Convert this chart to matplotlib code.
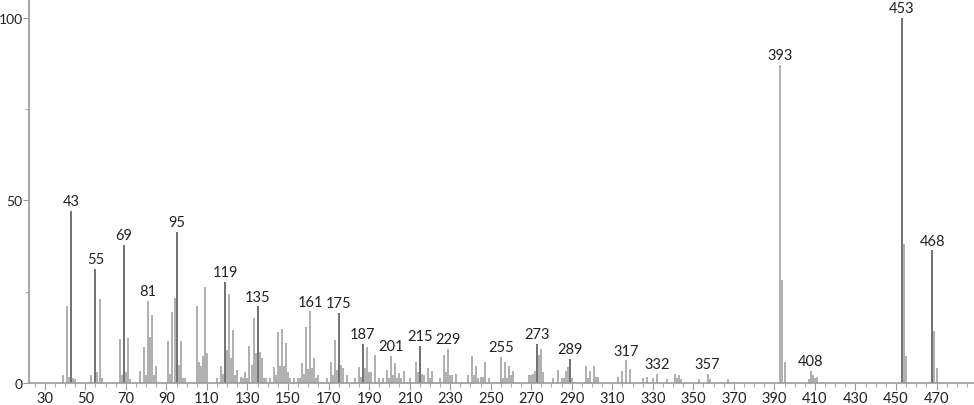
import matplotlib
matplotlib.use("Agg")
import matplotlib.pyplot as plt
from matplotlib.ticker import MultipleLocator, FixedLocator

plt.rcParams['font.family'] = ['Lato', 'DejaVu Sans']

# m/z and relative intensity
mz = [39, 41, 42, 43, 44, 45, 53, 55, 56, 57, 58,
      67, 68, 69, 70, 71, 72, 77, 79, 80, 81, 82, 83, 84, 85,
      91, 92, 93, 94, 95, 96, 97, 98, 99,
      105, 106, 107, 108, 109, 110, 115, 117, 118, 119, 120, 121, 122, 123, 124, 125,
      127, 128, 129, 130, 131, 132, 133, 134, 135, 136, 137, 138, 139,
      141, 143, 144, 145, 146, 147, 148, 149, 150, 151, 153, 155, 156, 157, 158, 159,
      160, 161, 162, 163, 164, 165, 169, 171, 172, 173, 174, 175, 176, 177, 179,
      183, 185, 186, 187, 188, 189, 190, 191, 193, 195, 197, 199, 200, 201, 202, 203,
      204, 205, 206, 207, 210, 213, 214, 215, 216, 217, 219, 220, 221, 225, 227, 228,
      229, 230, 231, 233, 239, 241, 242, 243, 244, 245, 246, 247, 249,
      255, 256, 257, 258, 259, 260, 261, 269, 270, 271, 272, 273, 274, 275, 276,
      281, 283, 285, 286, 287, 288, 289, 290, 297, 298, 299, 301, 302, 303,
      313, 315, 317, 319, 325, 327, 330, 332, 337, 341, 342, 343, 344,
      353, 357, 358, 367, 393, 394, 395, 407, 408, 409, 410, 411,
      453, 454, 455, 468, 469, 470]
intensity = [2.2, 21, 1.6, 47.1, 1.5, 1.1, 2.2, 31.2, 2.9, 23, 1.3,
             12, 2.2, 37.9, 2.9, 12.4, 1.1, 3.3, 9.9, 2.2, 22.6, 12.6, 18.6, 2.2, 4.6,
             11.5, 2.4, 19.4, 23.3, 41.3, 4.9, 11.5, 1.3, 1.3,
             21.2, 5.8, 4.7, 7.5, 26.4, 8.1, 1.3, 4.6, 2.4, 27.6, 9, 24.4, 6.8, 14.4, 2.2, 3.6,
             1.7, 1.3, 2.9, 1.4, 10.2, 4.9, 17.9, 8.2, 21, 8.4, 6.8, 1.3, 1.3,
             1.5, 4.5, 2.2, 13.9, 4.6, 14.8, 4.6, 11, 3.1, 1.3, 1.3, 1.3, 1.3, 5.5, 2.4, 15.3,
             3.9, 19.6, 4.1, 6.8, 1.3, 2.2, 1.5, 5.7, 2.2, 11.8, 3.6, 19.2, 4.9, 4, 2.3,
             1.4, 4.4, 1.7, 10.7, 4.2, 9.8, 3, 3, 7.7, 1.5, 1.5, 3.6, 1.4, 7.4, 2.2, 5.4,
             1.4, 2.8, 1.4, 3.2, 1.4, 5.7, 2.9, 10.1, 2.4, 2.1, 4.1, 1.5, 3.2, 1.4, 7.7, 2.9,
             9.3, 2.1, 2.1, 2.4, 2.1, 7.4, 2.1, 4.7, 1.4, 1.7, 1.7, 5.8, 1.5,
             7.2, 1.5, 5.7, 1.5, 4.7, 2.2, 3.3, 2.2, 2.2, 2.4, 3.2, 10.7, 7.7, 9.3, 2.9,
             1.5, 3.6, 1.5, 1.3, 3.3, 4.3, 6.6, 1.5, 4.7, 1.3, 3.2, 4.6, 1.6, 1.6,
             1.6, 3.3, 6.2, 3.7, 1.3, 1.6, 1.5, 2.5, 1.1, 2.6, 1.5, 2.3, 1.1,
             1.1, 2.4, 1.1, 1.1, 87.2, 28.2, 5.8, 1.1, 3.3, 2.2, 1.5, 1.6,
             100, 38.1, 7.4, 36.3, 14.2, 4.1]

labels = [43, 55, 69, 81, 95, 119, 135, 161, 175, 187, 201, 215, 229, 255,
          273, 289, 317, 332, 357, 393, 408, 453, 468]
dark = [43, 55, 69, 95, 119, 135, 175, 187, 215, 273, 289, 453, 468]

fig = plt.figure(figsize=(9.74, 4.06), dpi=100)
ax = fig.add_axes([29/974, 22/406, 945/974, 384/406])

colors = ['#4a4a4a' if m in dark else '#9a9a9a' for m in mz]
ax.vlines(mz, 0, intensity, colors=colors, linewidth=1.1)

lookup = dict(zip(mz, intensity))
for m in labels:
    ax.annotate(str(m), (m, lookup[m]), xytext=(0, 2), textcoords='offset points',
                ha='center', va='bottom', fontsize=10.5, color='#222222')

ax.set_xlim(22.2, 488.5)
ax.set_ylim(0, 105.2)
ax.xaxis.set_major_locator(FixedLocator(range(30, 480, 20)))
ax.xaxis.set_minor_locator(MultipleLocator(5))
ax.yaxis.set_major_locator(FixedLocator([0, 50, 100]))
ax.yaxis.set_minor_locator(FixedLocator([25, 75]))

for s in ['top', 'right']:
    ax.spines[s].set_visible(False)
for s in ['left', 'bottom']:
    ax.spines[s].set_color('#999999')
    ax.spines[s].set_linewidth(1.2)
ax.tick_params(axis='both', which='both', colors='#999999', labelcolor='#222222',
               labelsize=10.5)
ax.tick_params(axis='x', which='major', length=5, pad=1)
ax.tick_params(axis='x', which='minor', length=3)
ax.tick_params(axis='y', which='major', length=4, pad=0.5, labelsize=10)
ax.tick_params(axis='y', which='minor', length=3)

fig.savefig('out.png', dpi=100)
